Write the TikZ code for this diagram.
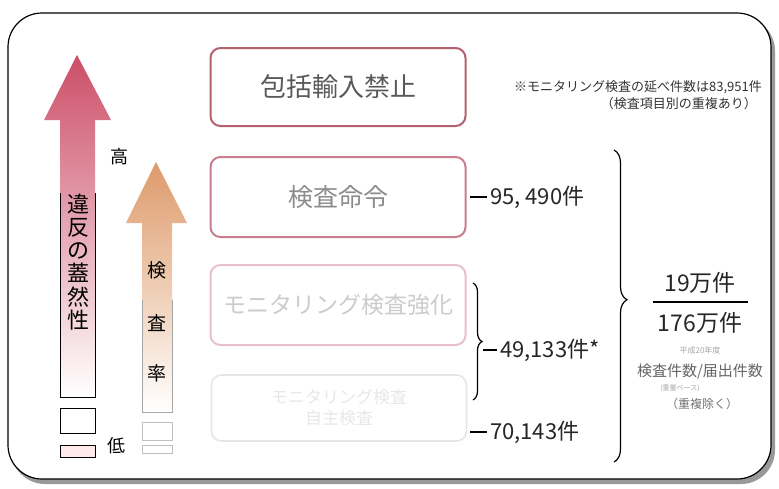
\documentclass[tikz,border=0pt]{standalone}
\usepackage{fontspec}
\setmainfont{Noto Sans CJK JP}
\usetikzlibrary{decorations.pathreplacing}
\definecolor{boxA}{HTML}{B5606E}
\definecolor{boxB}{HTML}{C87E8C}
\definecolor{boxC}{HTML}{E8C0CB}
\definecolor{boxD}{HTML}{E6E6E6}
\definecolor{arrR}{HTML}{CC4E68}
\definecolor{arrO}{HTML}{DE9A6A}
\newcommand{\fsz}[1]{\fontsize{#1}{#1}\selectfont}
\tikzset{
  stagebox/.style={draw, rounded corners=10pt, line width=2pt, fill=white,
    minimum width=255pt, minimum height=78pt, align=center, inner sep=0pt},
  num/.style={anchor=west, inner sep=0pt, font=\fsz{22}, text=black!85},
  vlab/.style={inner sep=0pt, font=\fsz{19}},
  tick/.style={line width=1.4pt, shorten <=3pt, shorten >=3pt},
  bracestyle/.style={decorate, line width=1.2pt},
}
\begin{document}
\begin{tikzpicture}[x=1pt,y=-1pt]
\useasboundingbox (0,0) rectangle (779,488);
% frame with shadow
\fill[black!40, rounded corners=34pt] (11,17) rectangle (775,484);
\draw[line width=1.2pt, fill=white, rounded corners=34pt] (8,13) rectangle (771,479);

% red arrow
\shade[top color=arrR, middle color=arrR!30, bottom color=white]
  (77,55) -- (111,120) -- (95,120) -- (95,397) -- (60,397) -- (60,120) -- (44,120) -- cycle;
\draw[line width=0.8pt] (60,193) -- (60,397) -- (95,397) -- (95,193);
\draw[line width=0.8pt] (60,408) rectangle (95,433);
\draw[line width=0.8pt, fill=pink!35] (60,445) rectangle (95,457);
\node[align=center, inner sep=0pt, font=\fsz{22}\linespread{1.05}\selectfont] (ihan) at (78,262)
  {違\\反\\の\\蓋\\然\\性};

% orange arrow
\shade[top color=arrO, middle color=arrO!25, bottom color=white]
  (156,162) -- (187,223) -- (172,223) -- (172,412) -- (142,412) -- (142,223) -- (126,223) -- cycle;
\draw[black!35, line width=0.7pt] (142,300) -- (142,412) -- (172,412) -- (172,300);
\draw[black!25, line width=0.7pt] (142,422) rectangle (172,440);
\draw[black!25, line width=0.7pt] (142,445) rectangle (172,453);
\node[vlab] (ken) at (157,270) {検};
\node[vlab] (sa) at (157,323) {査};
\node[vlab] (ritsu) at (157,373) {率};

\node[vlab, font=\fsz{18}] (hi) at (119,157) {高};
\node[vlab, font=\fsz{18}] (lo) at (116,446) {低};

% stage boxes
\node[stagebox, draw=boxA, text=black!65, font=\fsz{26}] (ban) at (338,87) {包括輸入禁止};
\node[stagebox, draw=boxB, text=black!45, font=\fsz{25}, minimum height=80pt] (cmd) at (338,197) {検査命令};
\node[stagebox, draw=boxC, text=black!20, font=\fsz{23}, minimum height=80pt] (mon) at (338,305) {モニタリング検査強化};
\node[stagebox, draw=boxD, text=black!9, font=\fsz{17}, minimum height=66pt, line width=1.6pt] (self) at (339,408)
  {モニタリング検査\\[4pt]自主検査};

% counts
\node[num] (n95) at (490,197) {95, 490件};
\node[num] (n49) at (500,350) {49,133件*};
\node[num] (n70) at (490,432) {70,143件};
\draw[tick] (cmd.east) -- (n95.west);
\draw[tick] (n70.west -| self.east) -- (n70.west);
\coordinate (b49top) at (473,283);
\coordinate (b49bot) at (473,400);
\draw[bracestyle, decoration={brace, amplitude=9pt}] (b49top) -- (b49bot);
\coordinate (b49tip) at (483,350);
\draw[tick, shorten <=0pt] (b49tip) -- (n49.west);

% big brace
\coordinate (bbtop) at (614,150);
\coordinate (bbbot) at (614,462);
\draw[bracestyle, decoration={brace, amplitude=13pt, aspect=0.48}] (bbtop) -- (bbbot);

% fraction
\node[inner sep=0pt, font=\fsz{23}, text=black!85] (num19) at (700,283) {19万件};
\coordinate (fracL) at (653,302);
\coordinate (fracR) at (748,302);
\draw[line width=1.3pt] (fracL) -- (fracR);
\node[inner sep=0pt, font=\fsz{23}, text=black!85] (den) at (700,323) {176万件};
\node[inner sep=0pt, font=\fsz{8}, text=black!35] (fy) at (700,350) {平成20年度};
\node[inner sep=0pt, font=\fsz{15}, text=black!60] (ratio) at (700,372) {検査件数/届出件数};
\node[inner sep=0pt, font=\fsz{7}, text=black!35] (wt) at (680,388) {(重量ベース)};
\node[inner sep=0pt, font=\fsz{12}, text=black!55] (dup) at (702,404) {（重複除く）};

% note
\node[anchor=east, inner sep=0pt, font=\fsz{13}, text=black!80] (note1) at (762,87) {※モニタリング検査の延べ件数は83,951件};
\node[anchor=east, inner sep=0pt, font=\fsz{13}, text=black!80] (note2) at (757,104) {（検査項目別の重複あり）};
\end{tikzpicture}
\end{document}
